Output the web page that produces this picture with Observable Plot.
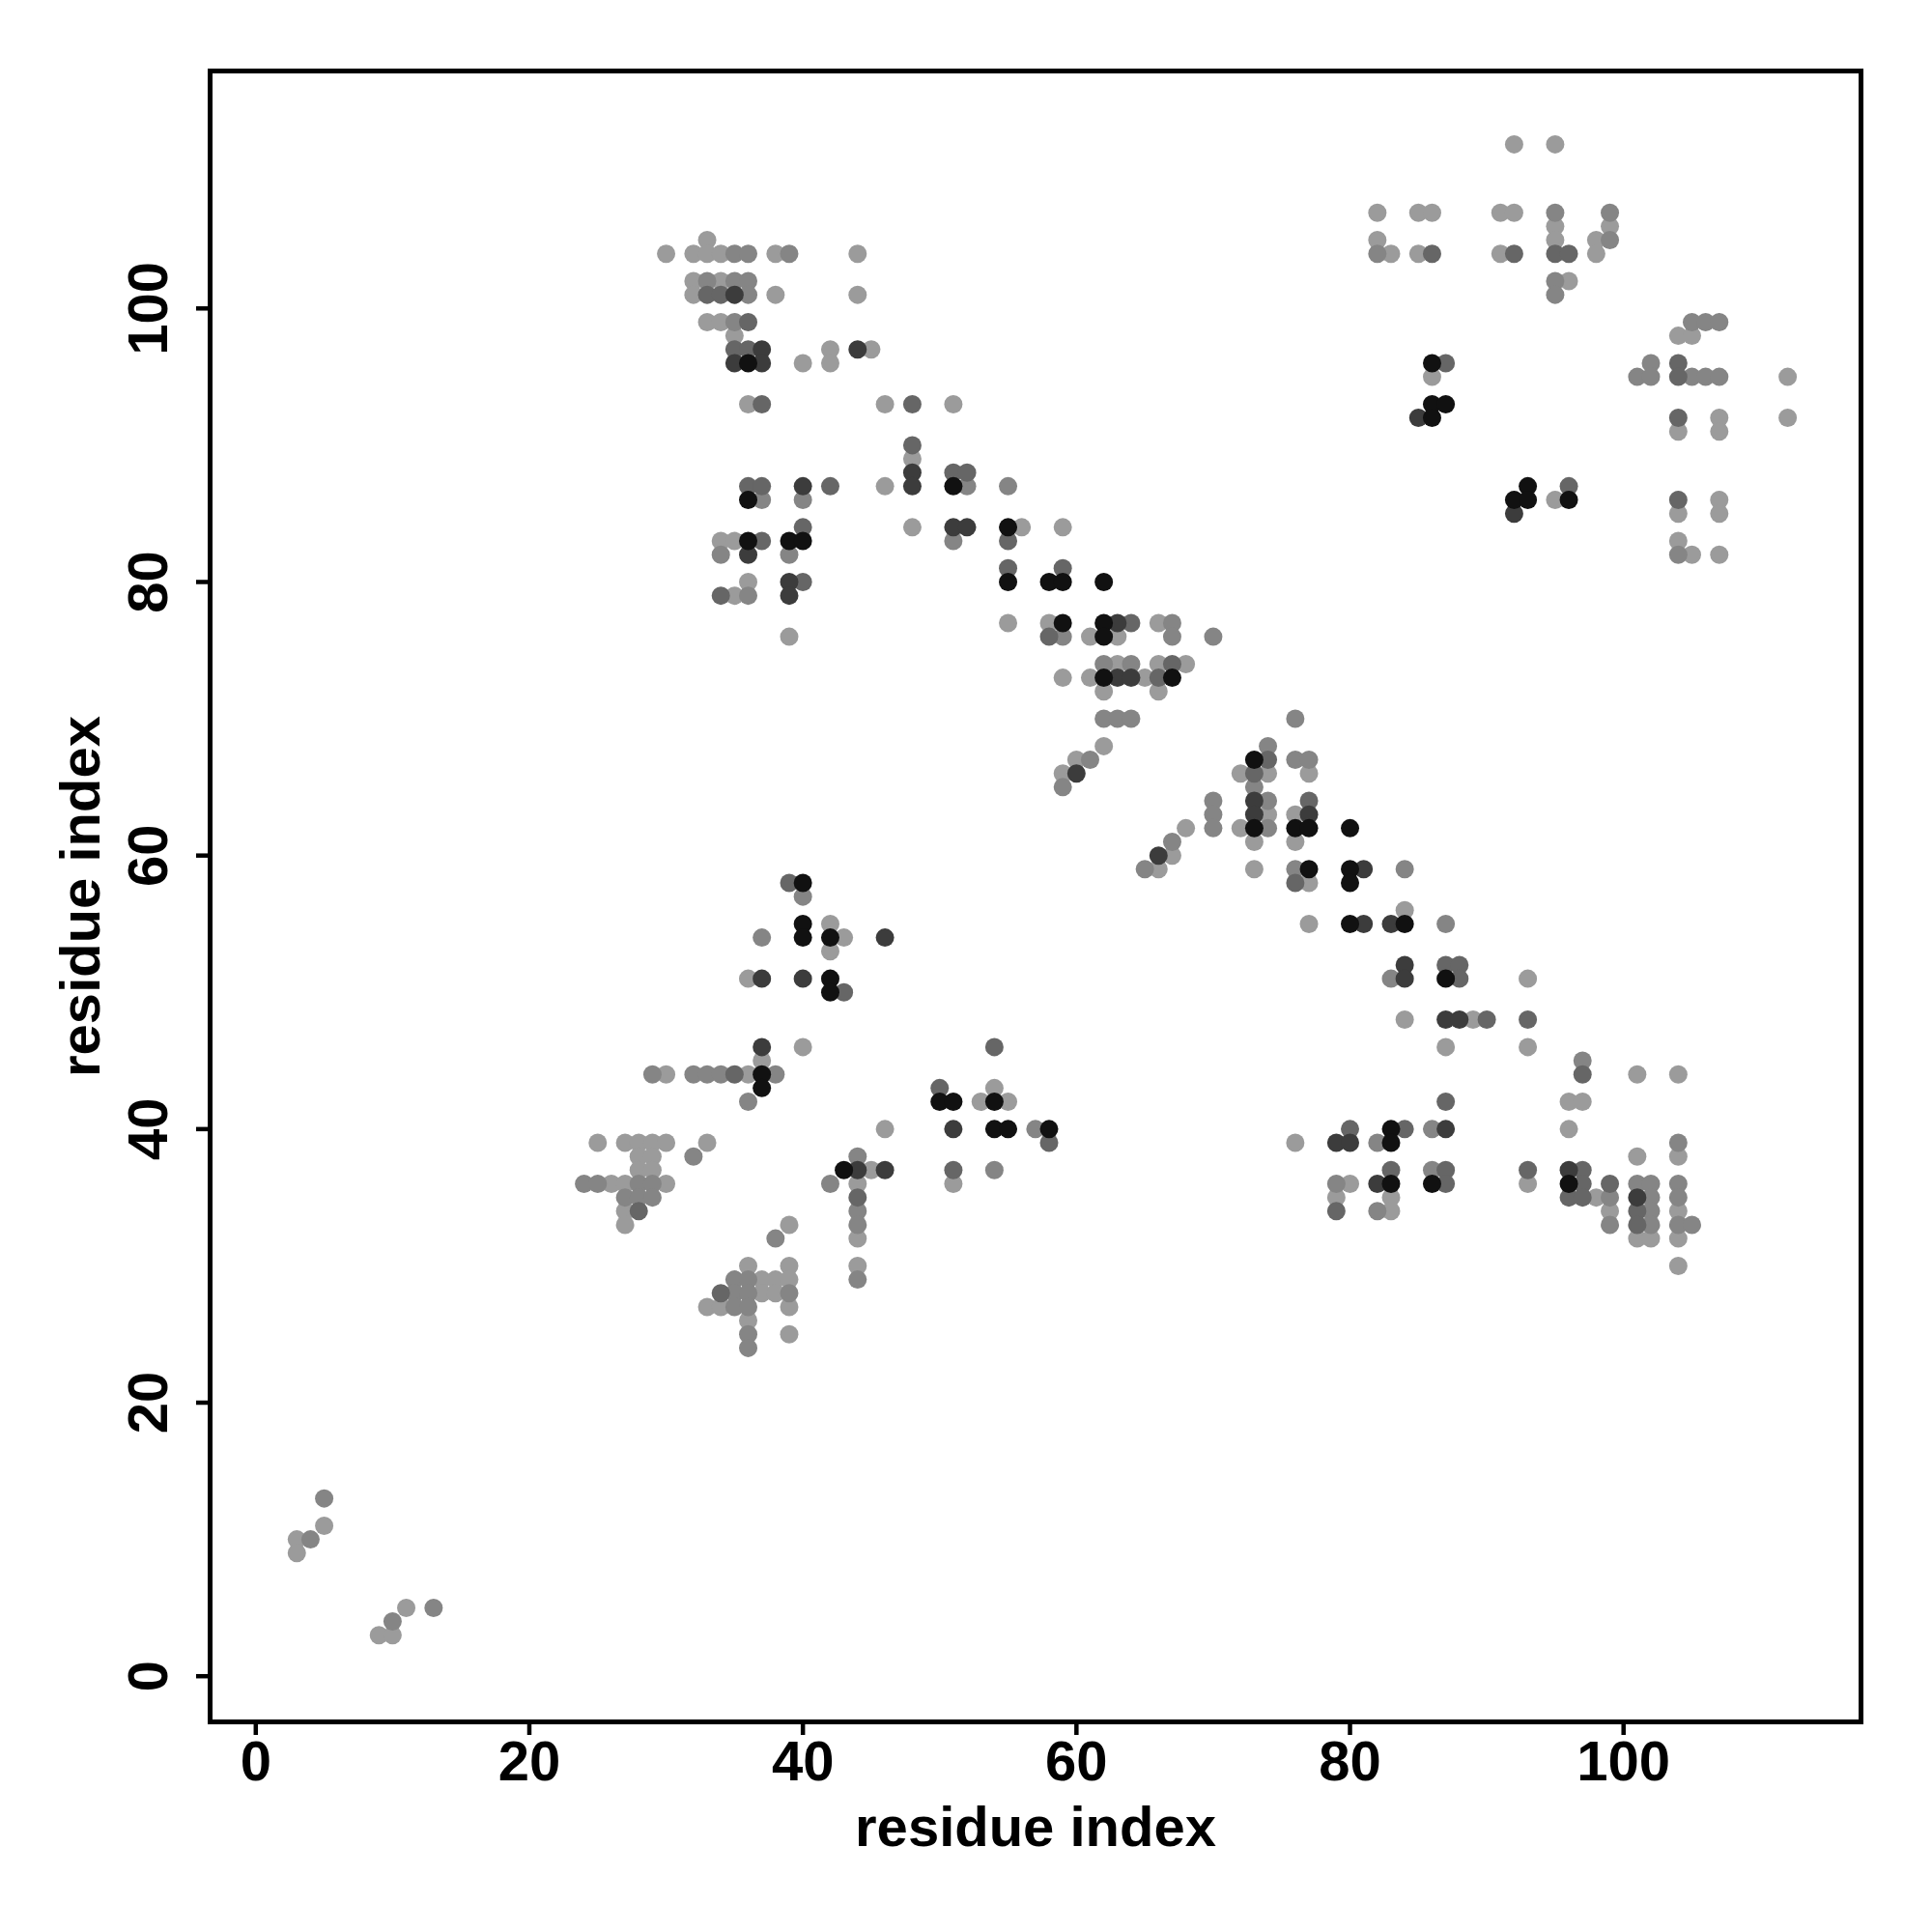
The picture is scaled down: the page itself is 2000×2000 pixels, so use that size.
<!DOCTYPE html>
<html><head><meta charset="utf-8">
<script src="https://cdn.jsdelivr.net/npm/d3@7"></script>
<script src="https://cdn.jsdelivr.net/npm/@observablehq/plot@0.6"></script>
<style>body{margin:0;background:#fff}</style>
</head><body><div id="chart"></div>
<script>
// Contact map: [residue i, residue j] pairs grouped by contact strength (1 = weakest, 5 = strongest)
const level1 = [[5,11],[3,10],[3,9],[11,5],[9,3],[10,3],
[33,105],[30,104],[32,104],[33,104],[34,104],[38,104],[44,104],[32,102],[34,102],[32,101],[38,101],[44,101],[33,99],[34,99],[35,98],[42,97],[45,97],[40,96],[42,96],[36,93],[46,93],
[48,89],[46,87],[48,84],[34,83],[35,83],[36,80],[35,79],[39,76],
[51,93],[56,84],[59,84],[55,77],[58,77],[61,76],[59,73],[61,73],[62,72],
[66,77],[63,76],[63,74],[66,74],[68,74],[65,73],[66,72],[62,68],[60,67],[59,66],
[72,66],[74,66],[77,66],[74,63],[76,63],[68,62],[72,62],[73,61],[76,61],[67,60],[66,59],[73,59],[77,58],[84,56],[77,55],[93,51],[84,48],[89,48],[87,46],[93,46],
[101,44],[104,44],[96,42],[97,42],[96,40],[76,39],[101,38],[104,38],[80,36],[93,36],[79,35],[83,35],[98,35],[83,34],[99,34],[104,34],[101,32],[102,32],[104,32],[104,30],
[42,55],[43,54],[42,53],[36,51],[40,46],[37,45],[30,44],[36,44],[46,40],
[25,39],[27,39],[28,39],[29,39],[30,39],[33,39],[28,38],[29,38],[28,37],[29,37],[45,37],[26,36],[27,36],[30,36],[44,36],[27,34],[27,33],[39,33],[44,32],[36,30],[39,30],[44,30],[37,29],[38,29],[39,29],[37,28],[38,28],[33,27],[34,27],[39,27],[36,26],[39,25],
[54,43],[53,42],[55,42],[51,36],
[92,112],[95,112],[82,107],[85,107],[86,107],[91,107],[92,107],[95,106],[99,106],[82,105],[95,105],[98,105],[83,104],[85,104],[91,104],[98,104],[96,102],[86,95],[95,86],
[104,98],[105,98],[112,95],[107,92],[112,92],[104,91],[107,91],[107,86],[104,85],[107,85],[104,83],[105,82],[107,82]];

const level2 = [[5,13],[4,10],[13,5],[10,4],
[35,104],[36,104],[39,104],[33,102],[35,102],[36,102],[36,101],[35,99],
[37,86],[40,86],[34,82],[39,82],[36,79],
[52,87],[55,87],[51,83],[59,76],
[67,77],[67,76],[70,76],[62,74],[64,74],[62,70],[63,70],[64,70],[61,67],[59,65],
[76,70],[74,68],[76,67],[77,67],[73,65],[70,64],[74,64],[70,63],[70,62],[74,62],[67,61],[65,59],[76,59],[84,59],[87,55],[83,51],
[97,45],[86,40],[82,39],[104,39],[86,37],[79,36],[101,36],[102,36],[104,36],[99,35],[102,35],[104,35],[82,34],[102,34],[99,33],[102,33],[104,33],[105,33],
[40,57],[37,54],[29,44],[32,44],[33,44],[34,44],[38,44],[36,42],
[32,38],[44,38],[24,36],[25,36],[28,36],[29,36],[42,36],[27,35],[28,35],[29,35],[44,34],[44,33],[38,32],[35,29],[36,29],[44,29],[35,28],[36,28],[39,28],[35,27],[36,27],[36,25],[36,24],
[57,40],[54,37],
[95,107],[99,107],[99,105],[82,104],[95,102],[95,101],
[105,99],[106,99],[107,99],[102,96],[101,95],[102,95],[105,95],[106,95],[107,95],[104,82]];

const level3 = [[33,101],[34,101],[36,99],[35,97],[36,97],[37,93],[48,93],
[48,90],[36,87],[37,87],[42,87],[40,84],[37,83],[40,80],[34,79],
[51,88],[52,88],[55,83],[55,81],[59,81],[58,76],
[64,77],[67,74],[66,73],
[74,67],[73,66],[77,64],[76,58],[87,52],[88,52],[88,51],[90,48],[93,48],
[97,44],[87,42],[80,40],[84,40],[83,37],[87,37],[93,37],[97,37],[87,36],[97,36],[99,36],[96,35],[97,35],[79,34],[101,34],[101,33],
[39,58],[43,50],[35,44],
[44,35],[28,34],[34,28],
[54,46],[50,43],[58,39],[51,37],
[86,104],[92,104],[95,104],[96,104],[87,96],[96,87],
[104,96],[104,95],[104,92],[104,86]];

const level4 = [[35,101],[37,97],[44,97],[35,96],[37,96],
[48,88],[48,87],[40,87],[36,82],[39,80],[39,79],
[51,84],[52,84],
[63,77],[63,73],[64,73],[60,66],
[73,64],[73,63],[77,63],[66,60],[81,59],[81,55],[83,55],[84,52],[84,51],[87,48],[88,48],
[87,40],[79,39],[80,39],[82,36],[96,37],[101,35],
[46,54],[37,51],[40,51],[37,46],
[44,37],[46,37],
[51,40],
[85,92],[92,85]];

const level5 = [[36,96],
[36,86],[36,83],[39,83],[40,83],
[51,87],[55,84],[55,80],[58,80],[59,80],[62,80],[59,77],[62,77],[62,76],[62,73],
[67,73],
[73,67],[73,62],[76,62],[77,62],[80,62],[77,59],[80,59],[80,58],[80,55],[84,55],[87,51],
[83,40],[83,39],[83,36],[86,36],[96,36],
[40,58],[40,55],[40,54],[42,54],[42,51],[42,50],[37,44],[37,43],
[43,37],
[50,42],[51,42],[54,42],[54,40],[55,40],[58,40],
[86,96],[86,93],[87,93],[86,92],[93,87],[92,86],[93,86],[96,86]];

const xTicks = [0, 20, 40, 60, 80, 100];
const yTicks = [0, 20, 40, 60, 80, 100];
const shadeLevels = [1, 2, 3, 4, 5];
const shadeColors = ["#9b9b9b", "#858585", "#666666", "#3c3c3c", "#111111"];
const axisTitle = "residue index";

const data = [level1, level2, level3, level4, level5]
  .flatMap((pts, i) => pts.map(([x, y]) => ({x, y, level: shadeLevels[i]})));

const font = "'Liberation Sans', Arial, Helvetica, sans-serif";

const plot = Plot.plot({
  width: 2000,
  height: 2000,
  marginLeft: 217,
  marginRight: 74,
  marginTop: 73,
  marginBottom: 218,
  x: {domain: [-3.34, 117.36]},
  y: {domain: [-3.34, 117.36]},
  color: {type: "ordinal", domain: shadeLevels, range: shadeColors},
  style: {fontFamily: font, fontWeight: "bold", background: "white", color: "black"},
  marks: [
    Plot.dot(data, {x: "x", y: "y", r: 9.5, fill: "level"}),
    Plot.frame({stroke: "black", strokeWidth: 5}),
    Plot.axisX({ticks: xTicks, tickSize: 14, tickPadding: 5, fontSize: 58, label: null, strokeWidth: 4.5}),
    Plot.axisY({ticks: yTicks, tickSize: 14, tickPadding: 31, tickRotate: -90, fontSize: 58, label: null, strokeWidth: 4.5}),
    Plot.text([axisTitle], {text: d => d, frameAnchor: "bottom", dy: 128, lineAnchor: "bottom", textAnchor: "middle", fontSize: 58, fontWeight: "bold"}),
    Plot.text([axisTitle], {text: d => d, frameAnchor: "left", dx: -115, rotate: -90, lineAnchor: "bottom", textAnchor: "middle", fontSize: 58, fontWeight: "bold"})
  ]
});
document.getElementById("chart").appendChild(plot);
</script>
</body></html>
